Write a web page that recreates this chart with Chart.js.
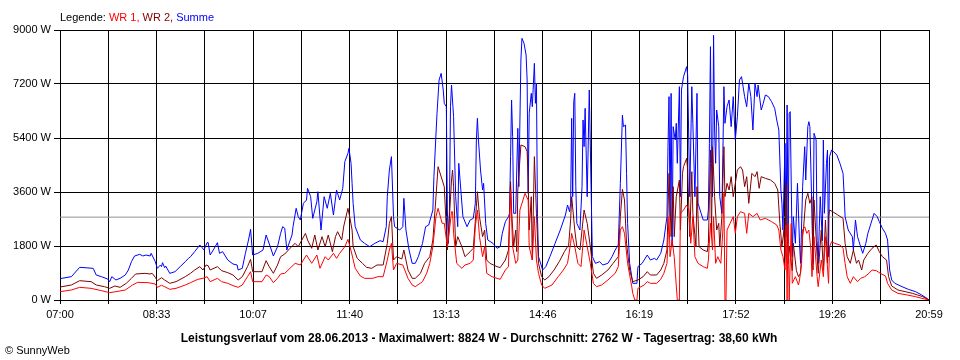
<!DOCTYPE html>
<html><head><meta charset="utf-8">
<script src="https://cdn.jsdelivr.net/npm/chart.js@4/dist/chart.umd.min.js"></script>
<style>html,body{margin:0;padding:0;background:#fff;}#wrap{width:960px;height:360px;position:relative}</style>
</head><body><div id="wrap"><canvas id="c" width="960" height="360"></canvas></div>
<script>
// time axis: minutes after 07:00 (07:00 .. 20:59)
const dayStart = 0, dayEnd = 839;
const xTickLabels = ['07:00','08:33','10:07','11:40','13:13','14:46','16:19','17:52','19:26','20:59'];
const yMax = 9000, yStep = 1800;
const avgW = 2762;
const titleText = 'Leistungsverlauf vom 28.06.2013 - Maximalwert: 8824 W - Durchschnitt: 2762 W - Tagesertrag: 38,60 kWh';

// [minute after 07:00, W]
const sumData = [[0,711],[11,778],[19,1089],[32,1056],[35,833],[40,778],[46,700],[48,611],[50,778],[54,667],[58,722],[63,833],[66,1000],[69,1278],[72,1467],[77,1522],[80,1467],[83,1500],[87,1467],[88,1556],[92,1278],[94,1056],[97,1167],[98,1111],[99,1244],[101,1078],[102,1133],[106,889],[111,944],[116,1111],[121,1278],[124,1389],[126,1444],[130,1611],[135,1833],[137,1756],[139,1667],[142,1911],[143,1917],[145,1500],[148,1667],[152,1911],[154,1556],[157,1611],[162,1333],[167,1200],[171,1167],[172,1000],[176,1056],[179,1556],[182,2000],[184,2356],[186,1500],[191,1556],[196,1667],[199,2167],[203,1778],[206,1467],[210,1778],[213,2222],[215,2444],[217,2389],[219,1667],[220,1778],[224,2167],[225,2444],[228,3056],[230,2778],[232,2667],[235,3222],[238,3333],[239,3722],[242,3444],[244,2722],[248,3278],[249,3611],[252,2333],[255,3444],[258,3056],[261,3556],[264,2833],[267,3667],[270,3333],[273,3722],[275,4611],[278,4889],[279,5056],[281,4556],[282,3889],[283,3222],[285,2444],[290,2000],[294,1889],[299,1778],[304,1889],[309,1978],[312,1944],[315,2444],[316,3444],[318,4333],[320,4778],[322,2778],[323,2444],[328,2333],[331,2444],[332,3389],[334,2333],[337,1667],[340,1222],[343,1222],[346,1444],[350,1889],[353,2444],[356,2500],[360,3000],[361,4111],[364,6222],[366,7333],[368,7556],[370,7000],[371,6556],[373,6444],[374,3000],[375,1889],[376,3000],[377,6444],[378,7167],[380,6111],[382,3444],[384,2444],[385,4556],[387,3667],[389,2778],[393,2444],[396,2667],[399,2722],[401,3222],[402,5333],[403,6056],[404,5333],[406,4333],[408,3667],[409,3889],[411,2556],[413,2000],[418,1889],[422,1722],[425,1778],[427,2222],[430,2611],[433,2778],[434,2889],[435,4778],[436,6667],[437,5444],[438,2889],[440,2889],[441,4333],[442,5722],[443,3778],[445,8000],[446,8722],[448,8556],[450,8167],[451,7333],[452,3556],[453,6222],[455,6889],[456,6444],[458,7889],[459,6556],[460,7222],[461,2778],[462,1444],[466,1000],[469,1111],[473,1444],[478,1889],[483,2333],[488,2833],[490,3167],[492,2944],[493,3222],[494,6056],[495,3444],[496,6611],[497,6889],[498,3778],[499,2556],[502,2333],[504,3778],[505,6000],[506,5111],[507,6389],[509,3444],[511,7000],[514,1444],[517,1222],[521,1278],[524,1167],[529,1222],[533,1444],[536,1667],[539,1833],[541,3889],[543,6167],[544,5778],[546,5833],[547,4222],[548,2556],[550,1222],[553,556],[557,556],[558,1111],[562,1222],[564,1333],[567,1500],[570,1333],[574,1389],[576,1333],[580,1556],[583,2000],[586,2778],[587,5111],[588,6778],[589,2778],[590,6889],[591,1778],[592,5778],[594,5333],[595,5889],[596,4556],[598,7111],[599,3444],[600,7000],[601,7222],[602,7444],[604,7667],[605,7778],[606,7500],[608,3444],[610,7111],[611,5889],[613,3444],[615,6889],[616,3222],[619,2889],[621,2667],[625,2667],[626,3000],[627,5222],[628,8444],[629,4556],[630,3444],[631,8824],[632,5667],[633,4556],[634,6333],[636,5778],[637,3444],[639,2889],[640,4889],[641,7111],[642,5889],[644,6444],[646,6667],[648,5778],[650,6778],[652,5333],[654,6111],[656,7333],[658,7444],[659,7222],[661,6778],[663,6444],[665,7222],[667,6778],[669,5667],[671,7222],[673,6778],[674,7167],[677,6333],[679,6556],[681,6833],[684,6778],[687,6611],[690,6389],[692,6000],[694,5667],[696,3667],[697,3222],[698,2333],[700,5222],[701,2111],[702,6500],[703,1889],[704,6222],[705,6278],[707,1444],[708,2778],[710,1889],[712,3889],[714,1889],[715,1222],[717,3778],[719,5111],[720,4000],[722,5778],[723,5944],[724,5778],[726,2889],[727,1222],[728,5556],[730,5333],[731,1978],[732,1222],[734,3444],[736,1978],[737,5333],[738,2889],[740,4556],[741,5000],[742,1444],[743,4778],[745,5000],[747,4944],[750,4833],[753,4556],[756,4222],[757,3556],[758,2778],[761,2333],[765,2111],[766,1667],[768,2667],[770,2111],[773,1778],[775,1556],[778,1889],[780,2222],[784,2667],[786,2889],[789,2778],[791,2611],[794,2389],[797,2222],[799,2000],[801,1000],[803,667],[806,556],[813,444],[819,356],[826,278],[832,167],[837,56],[839,0]];

const wr2Data = [[0,433],[11,500],[19,644],[30,611],[35,500],[43,444],[48,389],[53,467],[58,422],[64,556],[69,722],[73,867],[82,889],[87,867],[89,889],[92,756],[94,644],[98,744],[101,667],[106,556],[112,611],[121,778],[126,889],[130,1000],[135,1111],[138,1000],[141,1167],[143,1144],[145,1000],[152,1111],[156,978],[162,911],[167,833],[172,667],[176,778],[181,1111],[184,1356],[186,944],[195,944],[199,1311],[202,1111],[206,889],[210,1167],[213,1444],[217,1533],[222,1722],[227,1889],[230,1778],[237,2222],[239,2000],[243,1722],[246,2167],[249,1667],[253,2111],[256,1778],[259,2167],[263,1611],[266,2111],[268,2278],[272,2000],[274,2467],[278,3056],[280,2722],[282,2333],[283,1778],[287,1389],[292,1222],[296,1089],[301,1056],[306,1167],[312,1167],[316,1889],[318,2556],[320,2778],[322,1333],[325,1444],[330,1367],[332,1667],[336,1000],[340,722],[343,722],[348,889],[352,1222],[357,1444],[360,2000],[363,3444],[365,4444],[369,4000],[371,3778],[374,1667],[376,2778],[378,4000],[379,4333],[380,3778],[382,1778],[384,2111],[388,1778],[391,1444],[396,1611],[399,1722],[402,3111],[403,3611],[405,2778],[408,2111],[410,2333],[412,1333],[415,1222],[422,1111],[425,1080],[430,1333],[433,1667],[435,3944],[436,3000],[438,1778],[440,2333],[441,1611],[442,3667],[445,5167],[449,5111],[451,4944],[452,4000],[453,2333],[455,3444],[456,1333],[458,4778],[460,2889],[462,1222],[465,778],[468,667],[472,778],[477,1000],[482,1278],[487,1611],[490,1778],[491,1778],[493,2667],[494,3444],[497,2333],[499,1778],[502,1667],[504,2333],[506,3000],[509,2556],[512,1778],[515,889],[518,722],[523,833],[529,1000],[534,1222],[539,1444],[541,2778],[543,3689],[545,3333],[547,1889],[550,1000],[553,611],[558,667],[563,778],[567,944],[570,833],[576,833],[580,1000],[583,1222],[586,1667],[588,4222],[590,2111],[592,3778],[593,2111],[595,3444],[598,4000],[599,2333],[601,4222],[602,4444],[605,4722],[606,4333],[608,2111],[610,4278],[611,2889],[614,1778],[615,3778],[617,1778],[621,1667],[625,1611],[626,1889],[628,5000],[629,2111],[630,5111],[632,3444],[634,2333],[636,2556],[637,1778],[639,2778],[641,5111],[642,3444],[644,3889],[646,3667],[648,4111],[650,3444],[652,3889],[654,4333],[657,4444],[659,4333],[661,3778],[663,4111],[665,3222],[668,4222],[671,4111],[673,4278],[675,3722],[677,4111],[681,4056],[686,4000],[690,3889],[693,3667],[695,2556],[697,1778],[699,2333],[700,1444],[701,3889],[703,1222],[704,1778],[707,978],[708,1889],[711,978],[713,778],[715,889],[717,2111],[718,2444],[720,3333],[722,3556],[724,3222],[726,3444],[727,1000],[728,3333],[731,1444],[732,889],[735,2333],[737,1000],[739,2667],[741,1222],[742,2778],[743,3000],[746,2944],[751,2833],[756,2722],[758,1889],[760,1444],[763,1222],[766,1667],[769,1222],[771,1333],[774,1000],[776,1333],[780,1556],[784,1722],[788,1833],[791,1611],[794,1444],[798,1333],[800,778],[803,467],[809,333],[816,278],[823,222],[828,167],[833,111],[839,0]];

const wr1Data = [[0,278],[11,333],[19,422],[30,389],[40,311],[48,244],[54,278],[63,333],[70,500],[75,589],[85,578],[92,533],[94,422],[98,489],[101,444],[106,356],[112,389],[121,500],[126,578],[133,689],[138,722],[142,778],[145,611],[152,722],[156,611],[162,556],[167,478],[172,422],[176,500],[181,778],[184,944],[186,611],[195,611],[199,833],[202,778],[206,578],[210,722],[213,867],[217,889],[222,1056],[227,1222],[232,1167],[238,1500],[243,1222],[248,1500],[251,1056],[256,1444],[259,1333],[264,1556],[267,1389],[270,1556],[275,1778],[278,2022],[280,1778],[282,1500],[285,1056],[290,800],[294,722],[302,722],[307,778],[312,778],[316,1333],[318,1667],[320,1889],[322,1000],[325,1222],[331,1167],[336,722],[340,500],[343,444],[350,611],[354,889],[357,1222],[360,1778],[363,2778],[365,3056],[369,2556],[371,2556],[374,1778],[376,2333],[378,2944],[379,2944],[380,2222],[383,1222],[388,1056],[391,1167],[396,1222],[399,1333],[401,2444],[403,3000],[405,2111],[408,1444],[410,1778],[412,889],[417,778],[422,722],[425,690],[430,1000],[433,1111],[435,3667],[437,1778],[440,1222],[442,1333],[444,3000],[449,3556],[452,3333],[453,1778],[456,1333],[458,2778],[460,1333],[462,889],[465,500],[468,389],[475,500],[481,778],[486,1000],[490,1222],[493,1889],[494,2222],[497,1778],[500,1222],[503,1111],[505,1889],[506,2333],[509,1778],[512,1222],[515,556],[518,444],[523,500],[529,667],[536,889],[539,1111],[541,2333],[543,2444],[545,2222],[548,1222],[552,444],[553,222],[555,0],[557,0],[558,389],[564,500],[567,611],[570,556],[576,556],[580,689],[583,889],[586,1222],[588,2778],[589,1444],[591,2000],[593,1444],[596,0],[598,0],[599,2889],[602,3000],[605,3167],[607,3000],[609,1889],[611,2778],[613,1444],[616,1222],[621,1111],[625,1056],[626,1333],[628,2556],[630,1667],[631,2778],[633,1222],[635,1444],[638,1222],[640,2333],[641,3556],[642,0],[643,0],[644,2333],[647,2556],[650,2778],[652,2222],[654,2778],[657,2944],[661,2889],[663,2222],[665,2889],[669,2778],[673,2889],[676,2667],[681,2722],[687,2611],[692,2500],[694,2333],[696,1667],[698,1444],[700,1000],[701,2500],[702,0],[703,2556],[704,0],[706,2556],[707,556],[710,778],[713,500],[714,667],[716,1222],[717,2333],[719,2444],[721,2222],[723,2333],[725,1667],[726,778],[728,2111],[731,778],[732,444],[735,1333],[737,778],[739,2111],[742,556],[743,1778],[745,1944],[748,1889],[753,1833],[756,1722],[758,1222],[760,778],[763,556],[766,778],[770,611],[773,722],[777,778],[781,889],[784,1000],[788,978],[792,889],[797,800],[799,556],[803,333],[809,222],[818,167],[826,111],[832,56],[839,0]];

const toPts = arr => arr.map(p => ({x: p[0], y: p[1]}));
const FONT = '"Liberation Sans", Arial, sans-serif';

const textPlugin = {
  id: 'texts',
  afterDraw(chart) {
    const ctx = chart.ctx;
    ctx.save();
    ctx.textBaseline = 'alphabetic';
    ctx.textAlign = 'left';
    ctx.font = '11px ' + FONT;
    let x = 60; const y = 21;
    const parts = [['Legende: ', '#000000'], ['WR 1, ', '#ff0000'], ['WR 2, ', '#800000'], ['Summe', '#0000ff']];
    for (const [t, c] of parts) { ctx.fillStyle = c; ctx.fillText(t, x, y); x += ctx.measureText(t).width; }
    ctx.font = 'bold 12px ' + FONT;
    ctx.fillStyle = '#000';
    ctx.textAlign = 'center';
    ctx.fillText(titleText, 479, 342);
    ctx.textAlign = 'left';
    ctx.font = '11px ' + FONT;
    ctx.fillText('\u00A9 SunnyWeb', 5, 354);
    ctx.restore();
  }
};

const lineDs = (label, data, color, order) => ({
  label, data: toPts(data), borderColor: color, backgroundColor: color,
  borderWidth: 1, pointRadius: 0, tension: 0, fill: false, order
});

new Chart(document.getElementById('c'), {
  type: 'line',
  data: {
    datasets: [
      lineDs('WR 1', wr1Data, '#ff0000', 0),
      lineDs('WR 2', wr2Data, '#800000', 1),
      lineDs('Summe', sumData, '#0000ff', 2),
      lineDs('Durchschnitt', [[dayStart, avgW], [dayEnd, avgW]], '#909090', 3)
    ]
  },
  options: {
    responsive: false,
    animation: false,
    devicePixelRatio: 1,
    layout: { padding: { left: 0, right: 31, top: 30, bottom: 0 } },
    plugins: { legend: { display: false }, tooltip: { enabled: false } },
    scales: {
      x: {
        type: 'linear', min: dayStart, max: dayEnd,
        afterFit(s) { s.height = 60; },
        afterBuildTicks(s) {
          const n = (xTickLabels.length - 1) * 2;
          s.ticks = Array.from({length: n + 1}, (_, i) => ({ value: dayStart + i * (dayEnd - dayStart) / n }));
        },
        grid: { color: '#000', lineWidth: 1, tickLength: 4, drawTicks: true },
        border: { display: true, color: '#000', width: 1 },
        ticks: {
          autoSkip: false, maxRotation: 0, padding: 4, color: '#000',
          font: { family: FONT, size: 11 },
          callback: (v, i) => (i % 2 === 0 ? xTickLabels[i / 2] : '')
        }
      },
      y: {
        min: 0, max: yMax,
        afterFit(s) { s.width = 60; },
        grid: { color: '#000', lineWidth: 1, tickLength: 6, drawTicks: true },
        border: { display: true, color: '#000', width: 1 },
        ticks: {
          stepSize: yStep, padding: 3, color: '#000',
          font: { family: FONT, size: 11 },
          callback: v => v + ' W'
        }
      }
    }
  },
  plugins: [textPlugin]
});
</script>
</body></html>
